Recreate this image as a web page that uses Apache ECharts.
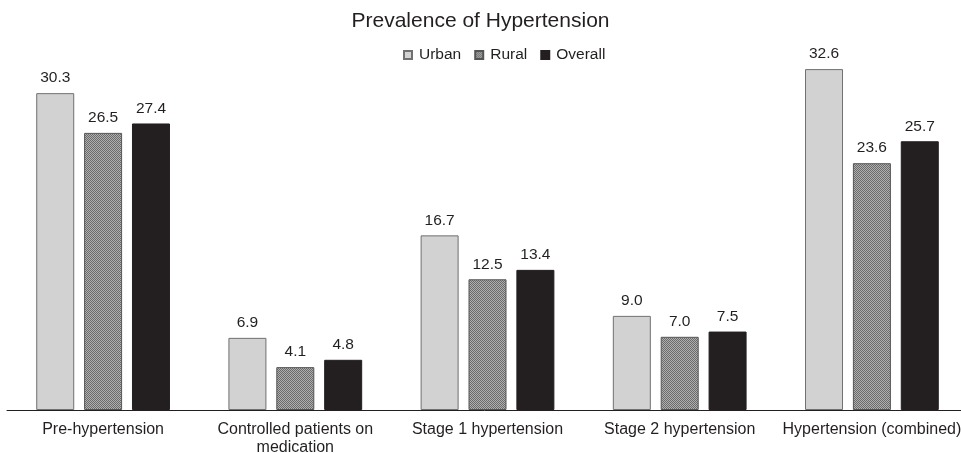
<!DOCTYPE html>
<html><head><meta charset="utf-8">
<script src="https://cdn.jsdelivr.net/npm/echarts@6/dist/echarts.min.js"></script>
<style>html,body{margin:0;padding:0;background:#fff;overflow:hidden}#c{width:961px;height:453px}</style>
</head><body><div id="c"></div>
<script>
var categories = ['Pre-hypertension', 'Controlled patients on\nmedication', 'Stage 1 hypertension', 'Stage 2 hypertension', 'Hypertension (combined)'];
var urban = [30.3, 6.9, 16.7, 9.0, 32.6];
var rural = [26.5, 4.1, 12.5, 7.0, 23.6];
var overall = [27.4, 4.8, 13.4, 7.5, 25.7];
var seriesNames = ['Urban', 'Rural', 'Overall'];

var cv = document.createElement('canvas');
cv.width = 2; cv.height = 2;
var cx = cv.getContext('2d');
cx.fillStyle = '#b0b0b0'; cx.fillRect(0,0,2,2);
cx.fillStyle = '#6a6a6a';
cx.fillRect(0,0,1,1); cx.fillRect(1,1,1,1);

var chart = echarts.init(document.getElementById('c'), null, {renderer: 'canvas'});
var font = 'Liberation Sans, Arial, sans-serif';
var lbl = {show: true, position: 'top', distance: 7, color: '#231f20', fontSize: 15.5, fontFamily: font,
  formatter: function(p){ return p.value.toFixed(1); }};
chart.setOption({
  animation: false,
  title: {text: 'Prevalence of Hypertension', left: 'center', top: 11, padding: 0,
    textStyle: {fontFamily: font, fontSize: 21, fontWeight: 'normal', color: '#231f20'}},
  legend: {data: seriesNames, top: 47, left: 403, padding: 0, itemWidth: 8, itemHeight: 8, itemGap: 13,
    icon: 'rect',
    textStyle: {fontFamily: font, fontSize: 15.5, color: '#231f20', padding: [0, 0, 0, 2]}},
  grid: {left: 7, width: 961, top: 44, bottom: 43, outerBoundsMode: 'none', containLabel: false},
  xAxis: {type: 'category', data: categories,
    axisLine: {lineStyle: {color: '#231f20', width: 1}},
    axisTick: {show: false},
    axisLabel: {fontFamily: font, fontSize: 16, color: '#231f20', margin: 11, lineHeight: 18, interval: 0}},
  yAxis: {type: 'value', min: 0, max: 35, show: false, splitLine: {show: false}},
  series: [
    {name: 'Urban', type: 'bar', data: urban, barWidth: 38, barGap: '26%',
      itemStyle: {color: '#d2d2d2', borderColor: '#707070', borderWidth: 1}, label: lbl},
    {name: 'Rural', type: 'bar', data: rural, barWidth: 38,
      itemStyle: {color: {image: cv, repeat: 'repeat'}, borderColor: '#555', borderWidth: 1}, label: lbl},
    {name: 'Overall', type: 'bar', data: overall, barWidth: 38,
      itemStyle: {color: '#231f20', borderColor: '#231f20', borderWidth: 1}, label: lbl}
  ]
});
</script></body></html>
